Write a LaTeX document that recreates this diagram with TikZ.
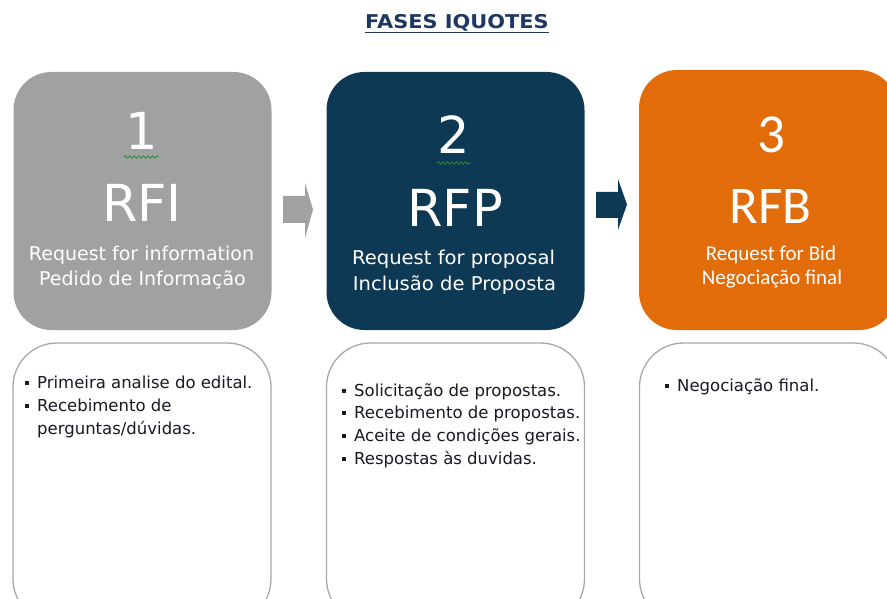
\documentclass[tikz,border=0pt]{standalone}
\usepackage{fontspec}
\setmainfont{DejaVu Sans}
\newfontfamily\calib{Carlito}
\usetikzlibrary{decorations.pathmorphing}
\definecolor{cgray}{RGB}{160,161,163}
\definecolor{cnavy}{RGB}{14,57,85}
\definecolor{corange}{RGB}{226,108,10}
\definecolor{cborder}{RGB}{168,168,168}
\definecolor{ctitle}{RGB}{31,56,96}
\definecolor{cgreen}{RGB}{40,140,40}
\definecolor{ctext}{RGB}{25,25,35}
\newcommand{\bul}{\makebox[12pt][l]{\rule[3.5pt]{4pt}{4pt}}}
\begin{document}
\begin{tikzpicture}[x=1pt,y=-1pt,
  phase/.style={rounded corners=38pt, minimum width=258pt, minimum height=258pt, inner sep=0pt},
  listbox/.style={draw=cborder, line width=1.3pt, fill=white, rounded corners=44pt, minimum width=258pt, minimum height=280pt, inner sep=0pt},
  numtxt/.style={text=white, anchor=base, inner sep=0pt, font=\fontsize{51}{51}\selectfont},
  subtxt/.style={text=white, anchor=base, inner sep=0pt, font=\fontsize{19}{25}\selectfont},
  cnumtxt/.style={text=white, anchor=base, inner sep=0pt, font=\calib\fontsize{55}{55}\selectfont},
  csubtxt/.style={text=white, anchor=base, inner sep=0pt, font=\calib\fontsize{21}{25}\selectfont},
  listtxt/.style={text=ctext, anchor=base west, inner sep=0pt, font=\fontsize{16.5}{23}\selectfont},
  squig/.style={draw=cgreen, line width=0.8pt, decorate, decoration={snake, amplitude=1.3pt, segment length=4.5pt}}
]
\useasboundingbox (0,0) rectangle (887,599);
\clip (0,0) rectangle (887,599);

% title
\node[anchor=base, inner sep=0pt, text=ctitle, font=\bfseries\fontsize{19}{19}\selectfont] (title) at (457,29) {\scalebox{1.1}[1]{FASES IQUOTES}};
\draw[ctitle, line width=1.4pt] ([yshift=-3.5pt]title.base west) -- ([yshift=-3.5pt]title.base east);

% phase boxes
\node[phase, fill=cgray] (b1) at (142.5,201) {};
\node[phase, fill=cnavy] (b2) at (455.5,201) {};
\node[phase, fill=corange, minimum height=260pt] (b3) at (768,200) {};

% block arrows between the phase boxes
\fill[cgray] (283,196) -- (305,196) -- (305,183) -- (313,209.5) -- (305,238) -- (305,223) -- (283,223) -- cycle;
\fill[cnavy] (596,192) -- (618,192) -- (618,179) -- (627,204.5) -- (618,230) -- (618,218) -- (596,218) -- cycle;

% box 1 text
\node[numtxt] (n1) at (141.5,150) {1};
\draw[squig] (124,157) -- (159,157);
\node[numtxt] (r1) at (142,222) {RFI};
\node[subtxt] (s1a) at (141.5,260) {Request for information};
\node[subtxt] (s1b) at (142.5,285) {Pedido de Informação};

% box 2 text
\node[numtxt] (n2) at (453.5,154) {2};
\draw[squig] (437,163) -- (471,163);
\node[numtxt] (r2) at (455,226) {RFP};
\node[subtxt] (s2a) at (453.5,264) {\scalebox{1.03}[1]{Request for proposal}};
\node[subtxt] (s2b) at (454.5,290) {\scalebox{1.03}[1]{Inclusão de Proposta}};

% box 3 text
\node[cnumtxt] (n3) at (771.5,153) {3};
\node[cnumtxt, font=\calib\fontsize{53}{53}\selectfont] (r3) at (770.5,223) {RFB};
\node[csubtxt] (s3a) at (771,260) {Request for Bid};
\node[csubtxt] (s3b) at (772,284) {Negociação final};

% list boxes
\node[listbox] (c1) at (142,483) {};
\node[listbox] (c2) at (455.5,483) {};
\node[listbox] (c3) at (768.5,483) {};

\node[listtxt] (a1) at (25,388) {\bul Primeira analise do edital.};
\node[listtxt] (a2) at (25,411) {\bul Recebimento de};
\node[listtxt] (a3) at (37,434) {perguntas/dúvidas.};

\node[listtxt] (p1) at (342,396) {\bul Solicitação de propostas.};
\node[listtxt] (p2) at (342,418.7) {\bul Recebimento de propostas.};
\node[listtxt] (p3) at (342,441.4) {\bul Aceite de condições gerais.};
\node[listtxt] (p4) at (342,464) {\bul Respostas às duvidas.};

\node[listtxt] (q1) at (665,391) {\bul Negociação final.};
\end{tikzpicture}
\end{document}
